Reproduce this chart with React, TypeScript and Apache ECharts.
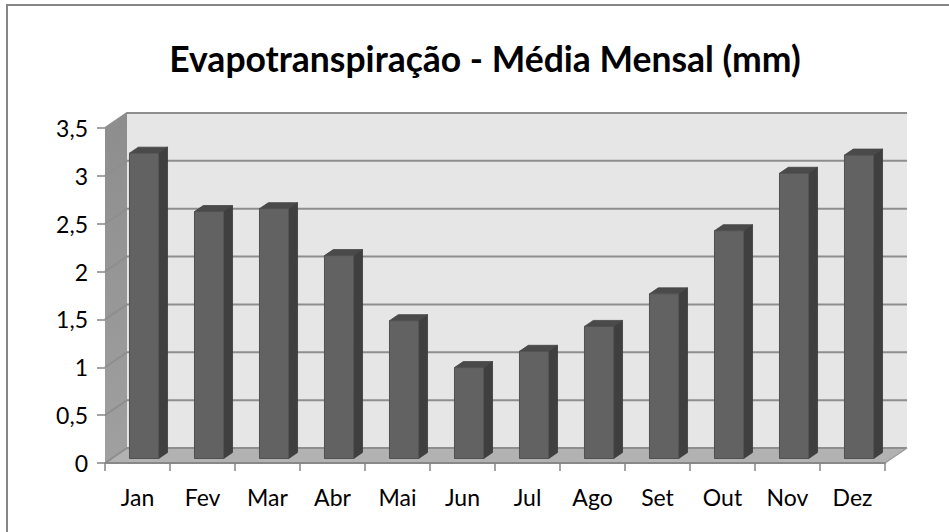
import React, { useEffect, useRef } from "react";
import * as echarts from "echarts";

const titleText = "Evapotranspiração - Média Mensal (mm)";
const months = ["Jan", "Fev", "Mar", "Abr", "Mai", "Jun", "Jul", "Ago", "Set", "Out", "Nov", "Dez"];
const evapo = [3.19, 2.58, 2.61, 2.12, 1.44, 0.95, 1.12, 1.38, 1.72, 2.38, 2.98, 3.17];
const yTicks = [0, 0.5, 1, 1.5, 2, 2.5, 3, 3.5];
const yMin = 0;
const yMax = 3.5;
const yStep = 0.5;

const DX = 22;
const DY = -15;
const FONT = "Lato, 'Noto Sans', sans-serif";

export default function App() {
  const ref = useRef<HTMLDivElement>(null);
  useEffect(() => {
    if (!ref.current) return;
    const chart = echarts.init(ref.current, null, { renderer: "svg" });

    const wallsRender = (params: any, api: any) => {
      const cs = params.coordSys;
      const x0 = cs.x;
      const x1 = cs.x + cs.width;
      const yb = api.coord([0, yMin])[1];
      const yt = api.coord([0, yMax])[1];
      const children: any[] = [];
      children.push({
        type: "polygon",
        shape: { points: [[x0, yb], [x0 + DX, yb + DY], [x0 + DX, yt + DY], [x0, yt]] },
        style: {
          fill: new echarts.graphic.LinearGradient(0, 0, 0, 1, [
            { offset: 0, color: "#8d8d8d" },
            { offset: 1, color: "#a0a0a0" },
          ]),
        },
      });
      children.push({
        type: "rect",
        shape: { x: x0 + DX, y: yt + DY, width: x1 - x0, height: yb - yt },
        style: { fill: "#e6e6e6" },
      });
      children.push({
        type: "polygon",
        shape: { points: [[x0, yb], [x1, yb], [x1 + DX, yb + DY], [x0 + DX, yb + DY]] },
        style: { fill: "#b2b2b2" },
      });
      yTicks.forEach((v) => {
        const y = api.coord([0, v])[1];
        children.push({
          type: "polyline",
          shape: { points: [[x0, y], [x0 + DX, y + DY], [x1 + DX, y + DY]] },
          style: { stroke: "#8e8e8e", lineWidth: 2, fill: null },
        });
      });
      children.push({
        type: "line",
        shape: { x1: x0, y1: yb, x2: x1, y2: yb },
        style: { stroke: "#8e8e8e", lineWidth: 2 },
      });
      children.push({
        type: "line",
        shape: { x1: x1, y1: yb, x2: x1 + DX, y2: yb + DY },
        style: { stroke: "#9a9a9a", lineWidth: 1.5 },
      });
      return { type: "group", children };
    };

    const barRender = (params: any, api: any) => {
      const i = api.value(0);
      const v = api.value(1);
      const base = api.coord([i, 0]);
      const top = api.coord([i, v]);
      const bw = api.size([1, 0])[0];
      const w = bw * 0.45;
      const d1 = 0.3;
      const d2 = 0.7;
      const fx0 = base[0] - w / 2 + d1 * DX;
      const fx1 = base[0] + w / 2 + d1 * DX;
      const fyb = base[1] + d1 * DY;
      const fyt = top[1] + d1 * DY;
      const ox = (d2 - d1) * DX;
      const oy = (d2 - d1) * DY;
      return {
        type: "group",
        children: [
          {
            type: "polygon",
            shape: { points: [[fx1, fyb], [fx1 + ox, fyb + oy], [fx1 + ox, fyt + oy], [fx1, fyt]] },
            style: { fill: "#3f3f3f", stroke: "#3a3a3a", lineWidth: 0.8 },
          },
          {
            type: "polygon",
            shape: { points: [[fx0, fyt], [fx1, fyt], [fx1 + ox, fyt + oy], [fx0 + ox, fyt + oy]] },
            style: { fill: "#4a4a4a", stroke: "#424242", lineWidth: 0.8 },
          },
          {
            type: "rect",
            shape: { x: fx0, y: fyt, width: fx1 - fx0, height: fyb - fyt },
            style: { fill: "#626262", stroke: "#505050", lineWidth: 1 },
          },
        ],
      };
    };

    chart.setOption({
      animation: false,
      backgroundColor: "#ffffff",
      title: {
        text: titleText,
        left: 480,
        top: 35,
        textAlign: "center",
        textStyle: { fontFamily: FONT, fontWeight: "bold", fontSize: 35.5, color: "#000000" },
      },
      graphic: [
        {
          type: "rect",
          shape: { x: 7, y: 5, width: 960, height: 560 },
          style: { fill: "none", stroke: "#868686", lineWidth: 2 },
          z: 100,
        },
      ],
      grid: { left: 105, right: 64, top: 128, bottom: 69 },
      xAxis: {
        type: "category",
        data: months,
        boundaryGap: true,
        axisLine: { show: true, lineStyle: { color: "#868686", width: 1.5 } },
        axisTick: { show: true, length: 8, lineStyle: { color: "#868686", width: 1.5 } },
        axisLabel: { fontFamily: FONT, fontSize: 23, color: "#000000", margin: 22 },
        z: 5,
      },
      yAxis: {
        type: "value",
        min: yMin,
        max: yMax,
        interval: yStep,
        splitLine: { show: false },
        axisLine: { show: false },
        axisTick: { show: true, length: 8, lineStyle: { color: "#868686", width: 1.5 } },
        axisLabel: {
          fontFamily: FONT,
          fontSize: 23,
          color: "#000000",
          margin: 17,
          formatter: (v: number) => String(v).replace(".", ","),
        },
      },
      series: [
        {
          type: "custom",
          name: "walls",
          renderItem: wallsRender,
          data: [[0, 0]],
          encode: { x: 0, y: 1 },
          clip: false,
          silent: true,
          z: 1,
        },
        {
          type: "custom",
          name: "Evapotranspiração",
          renderItem: barRender,
          data: evapo.map((v, i) => [i, v]),
          encode: { x: 0, y: 1 },
          clip: false,
          z: 2,
        },
      ],
    });
    return () => chart.dispose();
  }, []);
  return (
    <div
      ref={ref}
      style={{ position: "fixed", left: 0, top: 0, width: 949, height: 532 }}
    />
  );
}
